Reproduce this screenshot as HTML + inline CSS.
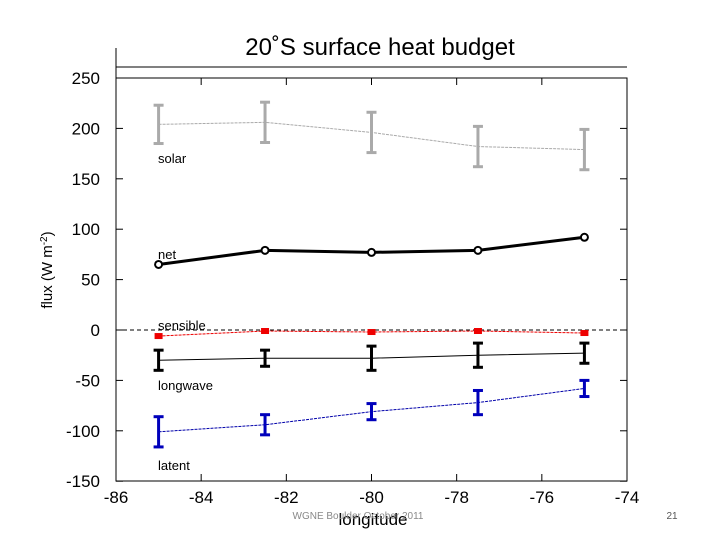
<!DOCTYPE html>
<html><head><meta charset="utf-8"><style>
body{margin:0;background:#fff;font-family:"Liberation Sans",sans-serif}
svg{display:block}
</style></head><body>
<svg width="720" height="540" font-family="Liberation Sans, sans-serif">
<text x="380" y="55" font-size="24" text-anchor="middle">20˚S surface heat budget</text>
<line x1="116" y1="67" x2="627" y2="67" stroke="#000"/>
<line x1="116" y1="48" x2="116" y2="78" stroke="#000"/>
<rect x="116" y="78" width="511" height="403" fill="none" stroke="#000"/>
<g id="axes"></g>
<g id="marks"></g>
<text transform="translate(52,270) rotate(-90)" font-size="15" text-anchor="middle">flux (W m<tspan font-size="10" dy="-5">-2</tspan><tspan dy="5">)</tspan></text>
<text x="373" y="525" font-size="17" text-anchor="middle">longitude</text>
<text x="358" y="519" font-size="10" fill="#888" text-anchor="middle">WGNE Boulder October 2011</text>
<text x="672" y="519" font-size="10" fill="#555" text-anchor="middle">21</text>
</svg>
<script>
const lons=[-85,-82.5,-80,-77.5,-75];
const solar=[204,206,196,182,179];
const solarErr=[19,20,20,20,20];
const net=[65,79,77,79,92];
const sensible=[-6,-1,-2,-1,-3];
const longwave=[-30,-28,-28,-25,-23];
const longwaveErr=[10,8,12,12,10];
const latent=[-101,-94,-81,-72,-58];
const latentErr=[15,10,8,12,8];
const xTicks=[-86,-84,-82,-80,-78,-76,-74];
const yTicks=[250,200,150,100,50,0,-50,-100,-150];

const NS='http://www.w3.org/2000/svg';
const X=v=>116+(v+86)*(511/12);
const Y=v=>330-v*1.008;
function mk(tag,attrs,parent){const e=document.createElementNS(NS,tag);for(const k in attrs)e.setAttribute(k,attrs[k]);parent.appendChild(e);return e;}
const ax=document.getElementById('axes'), mg=document.getElementById('marks');
xTicks.forEach(t=>{
  let l=mk('line',{x1:X(t),x2:X(t),y1:481,y2:474,stroke:'#000'},ax);
  
  
  l=mk('line',{x1:X(t),x2:X(t),y1:78,y2:85,stroke:'#000'},ax);
  
  
  const tx=mk('text',{x:X(t),y:503,'font-size':17,'text-anchor':'middle'},ax);
  tx.textContent=t;
  
  
});
yTicks.forEach(t=>{
  let l=mk('line',{x1:116,x2:123,y1:Y(t),y2:Y(t),stroke:'#000'},ax);
  
  
  l=mk('line',{x1:620,x2:627,y1:Y(t),y2:Y(t),stroke:'#000'},ax);
  
  
  const tx=mk('text',{x:100,y:Y(t)+6,'font-size':17,'text-anchor':'end'},ax);
  tx.textContent=t;
  
  
});
const zl=mk('line',{x1:116,x2:627,y1:Y(0),y2:Y(0),stroke:'#000','stroke-dasharray':'4,3'},ax);



function series(name,vals,color,width,dash){
  const p=mk('polyline',{points:vals.map((v,i)=>X(lons[i])+','+Y(v)).join(' '),fill:'none',stroke:color,'stroke-width':width,'stroke-dasharray':dash||''},mg);
  
  
}
function errbars(name,vals,errs,color){
  vals.forEach((v,i)=>{
    const x=X(lons[i]),y1=Y(v+errs[i]),y2=Y(v-errs[i]);
    const g=mk('g',{stroke:color,'stroke-width':3},mg);
    
    
    mk('line',{x1:x,x2:x,y1:y1,y2:y2},g);
    mk('line',{x1:x-5,x2:x+5,y1:y1,y2:y1},g);
    mk('line',{x1:x-5,x2:x+5,y1:y2,y2:y2},g);
  });
}
series('solar',solar,'#aaa',1,'3,1');
errbars('solar',solar,solarErr,'#aaa');
series('net',net,'#000',3);
net.forEach((v,i)=>{
  const c=mk('circle',{cx:X(lons[i]),cy:Y(v),r:3.5,fill:'#fff',stroke:'#000','stroke-width':2},mg);
  
  
});
series('sensible',sensible,'#e00',1,'3,1');
sensible.forEach((v,i)=>{
  const r=mk('rect',{x:X(lons[i])-4,y:Y(v)-3,width:8,height:6,fill:'#e00'},mg);
  
  
});
series('longwave',longwave,'#000',1);
errbars('longwave',longwave,longwaveErr,'#000');
series('latent',latent,'#00a',1,'3,1');
errbars('latent',latent,latentErr,'#00b');
[['solar',163],['net',259],['sensible',330],['longwave',390],['latent',470]].forEach(([t,y])=>{
  const tx=mk('text',{x:158,y:y,'font-size':13},mg);
  tx.textContent=t;
  
  
});
</script>
</body></html>
